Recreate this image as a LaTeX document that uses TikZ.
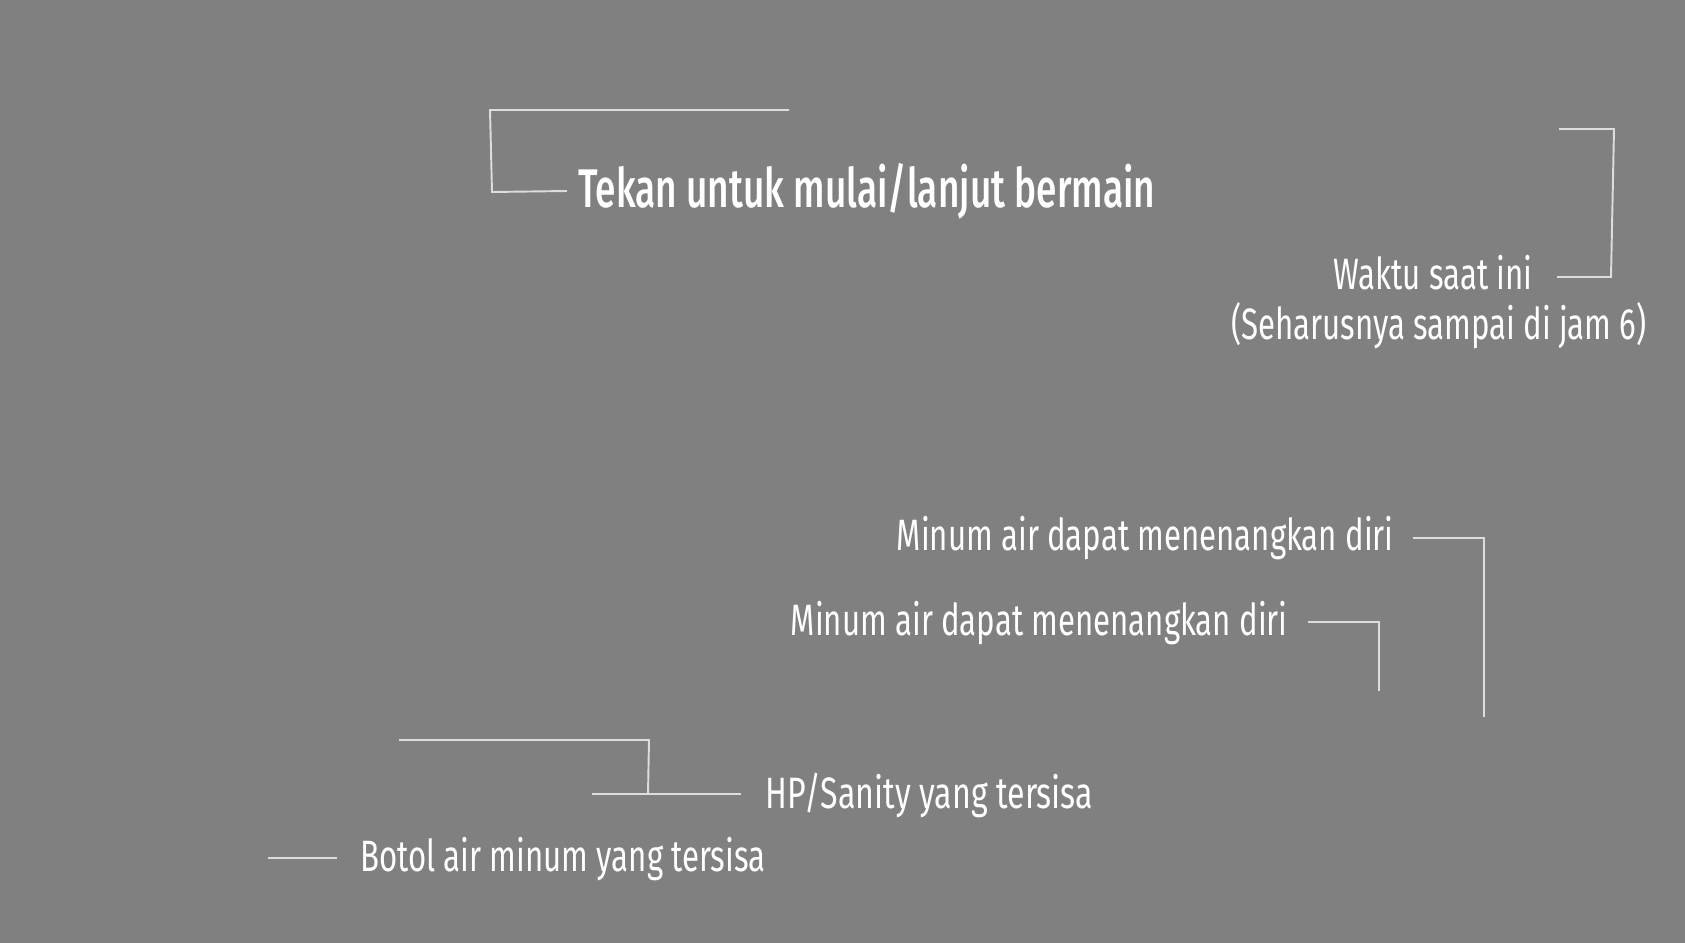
\documentclass[tikz,border=0pt]{standalone}
\usepackage{fontspec}
\setmainfont[FakeStretch=0.71]{Fira Sans}
\newfontfamily\titlefont[FakeStretch=0.68]{Fira Sans Medium}
\usepackage{tikz}
\definecolor{hudbg}{RGB}{128,128,128}
\definecolor{hudline}{RGB}{222,220,220}

\tikzset{
  hudlbl/.style={text=white, inner sep=0pt, font=\fontsize{25}{30}\selectfont},
  hudtitle/.style={text=white, inner sep=0pt, font=\titlefont\fontsize{31}{36}\selectfont},
  lead/.style={draw=hudline, line width=1.1pt}
}

\begin{document}
\begin{tikzpicture}[x=0.02cm, y=-0.02cm]
% background
\fill[hudbg] (0,0) rectangle (1685,943);
\useasboundingbox (0,0) rectangle (1685,943);

% Title
\node[hudtitle, anchor=west] (tekan) at (578,191) {Tekan untuk mulai/lanjut bermain};
\coordinate (tekanA) at (789,110);
\coordinate (tekanB) at (490,110);
\coordinate (tekanC) at (492,192);
\draw[lead] (tekanA) -- (tekanB) -- (tekanC) -- ([xshift=-0.22cm]tekan.west);

% Clock
\node[hudlbl, anchor=east] (waktu) at (1533,273) {Waktu saat ini};
\node[hudlbl, anchor=east] (jam) at (1647,326) {(Seharusnya sampai di jam 6)};
\coordinate (waktuA) at (1559,129);
\coordinate (waktuB) at (1614,129);
\coordinate (waktuC) at (1611,277);
\draw[lead] (waktuA) -- (waktuB) -- (waktuC) -- ([xshift=0.48cm]waktu.east |- waktuC);

% Water tips
\node[hudlbl, anchor=east] (minumA) at (1394,538) {Minum air dapat menenangkan diri};
\coordinate (minumAend) at (1484,717);
\draw[lead] ([xshift=0.38cm]minumA.east |- 0,538) -- (1484,538) -- (minumAend);

\node[hudlbl, anchor=east] (minumB) at (1288,623) {Minum air dapat menenangkan diri};
\coordinate (minumBend) at (1379,691);
\draw[lead] ([xshift=0.4cm]minumB.east |- 0,622) -- (1379,622) -- (minumBend);

% HP / Sanity
\node[hudlbl, anchor=west, xscale=1.03] (hp) at (765,795) {HP/Sanity yang tersisa};
\coordinate (hpA) at (399,740);
\coordinate (hpB) at (649,740);
\coordinate (hpC) at (648,794);
\coordinate (hpD) at (592,794);
\draw[lead] (hpA) -- (hpB) -- (hpC);
\draw[lead] (hpD) -- ([xshift=-0.48cm]hp.west |- hpD);

% Bottles
\node[hudlbl, anchor=west] (botol) at (360,859) {Botol air minum yang tersisa};
\coordinate (botolA) at (268,858);
\draw[lead] (botolA) -- ([xshift=-0.46cm]botol.west |- botolA);
\end{tikzpicture}
\end{document}
